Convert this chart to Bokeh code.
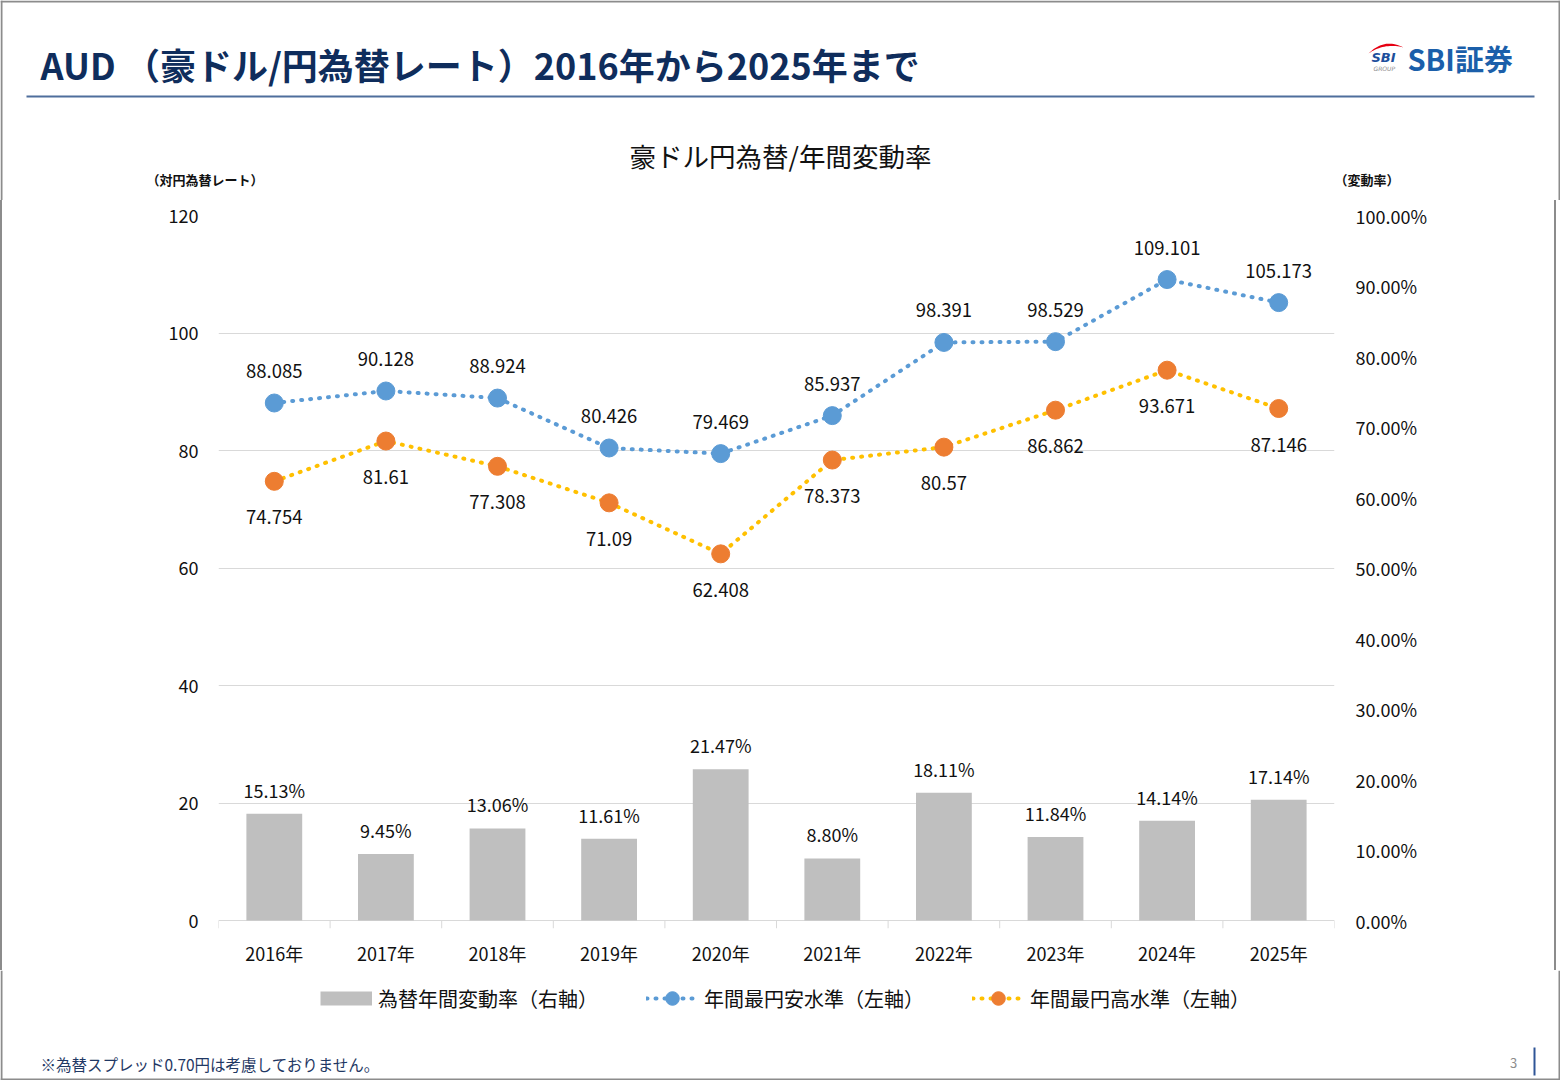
import numpy as np
from bokeh.plotting import figure
from bokeh.layouts import column
from bokeh.models import (Range1d, FactorRange, LinearAxis, CategoricalAxis, FixedTicker,
                          PrintfTickFormatter, ColumnDataSource, Legend, LegendItem)
from bokeh.core.properties import value
from bokeh.embed import file_html
from bokeh.resources import INLINE

# ---------------- data ----------------
years = ["2016年", "2017年", "2018年", "2019年", "2020年",
         "2021年", "2022年", "2023年", "2024年", "2025年"]
yen_weak = [88.085, 90.128, 88.924, 80.426, 79.469, 85.937, 98.391, 98.529, 109.101, 105.173]
yen_strong = [74.754, 81.61, 77.308, 71.09, 62.408, 78.373, 80.57, 86.862, 93.671, 87.146]
change_pct = [15.13, 9.45, 13.06, 11.61, 21.47, 8.80, 18.11, 11.84, 14.14, 17.14]
left_ticks = [0, 20, 40, 60, 80, 100, 120]
right_ticks = [0, 10, 20, 30, 40, 50, 60, 70, 80, 90, 100]

series_names = ["為替年間変動率（右軸）", "年間最円安水準（左軸）", "年間最円高水準（左軸）"]
page_title = "AUD （豪ドル/円為替レート）2016年から2025年まで"
chart_title = "豪ドル円為替/年間変動率"
left_unit = "（対円為替レート）"
right_unit = "（変動率）"
footnote = "※為替スプレッド0.70円は考慮しておりません。"
page_no = "3"

# ---------------- style ----------------
FONT = "Noto Sans CJK JP"
TXT = "#111111"
NAVY = "#0F2D5C"
BLUE = "#5B9BD5"
YELLOW = "#FFC000"
ORANGE = "#ED7D31"
BAR = "#BFBFBF"
GRID = "#D9D9D9"
FRAME_GRAY = "#8C8C8C"

W = 1560
RULE = 2                   # page frame rule width
HEAD_H, CHART_H, FOOT_H = 200, 770, 110
FL, FR = 218, 226          # chart frame margins (left / right), page pixels
FT = 15                    # chart frame top margin
PLOT_H = 705               # height of the 0..120 value band
TICK_OUT = 8               # category boundary tick length below the base line
FB = CHART_H - FT - PLOT_H - TICK_OUT

px_per_left = PLOT_H / left_ticks[-1]
px_per_right = PLOT_H / right_ticks[-1]


def canvas_fig(h):
    f = figure(width=W, height=h, x_range=Range1d(0, W), y_range=Range1d(h, 0),
               output_backend="svg", toolbar_location=None,
               x_axis_location=None, y_axis_location=None,
               min_border=0, outline_line_color=None, frame_align=False,
               background_fill_color="white", border_fill_color="white")
    f.xgrid.visible = False
    f.ygrid.visible = False
    return f


def put_text(f, x, y, text, size, color=TXT, align="left", style="normal", font=FONT):
    f.text(x=[x], y=[y], text=[text], text_font=value(font), text_font_size=size,
           text_color=color, text_align=align, text_baseline="middle",
           text_font_style=style)


def side_rules(f, h):
    f.quad(left=[0], right=[RULE], top=[0], bottom=[h], fill_color=FRAME_GRAY, line_color=None)
    f.quad(left=[W - RULE], right=[W], top=[0], bottom=[h], fill_color=FRAME_GRAY,
           line_color=None)


# ================= header =================
head = canvas_fig(HEAD_H)
side_rules(head, HEAD_H)
head.quad(left=[0], right=[W], top=[0], bottom=[RULE], fill_color=FRAME_GRAY, line_color=None)
head.quad(left=[26], right=[1534], top=[95], bottom=[97], fill_color="#4F6E9C", line_color=None)
put_text(head, 40, 63, page_title, "36px", color=NAVY, style="bold")
put_text(head, 780, 155, chart_title, "26.5px", align="center")
put_text(head, 146, 179, left_unit, "13px", style="bold")
put_text(head, 1334, 179, right_unit, "13px", style="bold")

# logo
t = np.linspace(0, 1, 20)


def bez(p0, c, p1):
    return ((1 - t) ** 2 * p0[0] + 2 * (1 - t) * t * c[0] + t ** 2 * p1[0],
            (1 - t) ** 2 * p0[1] + 2 * (1 - t) * t * c[1] + t ** 2 * p1[1])


ux, uy = bez((1368, 53), (1384, 37), (1403, 47))
lx, ly = bez((1403, 47), (1384, 42), (1368, 53))
head.patch(x=np.concatenate([ux, lx]), y=np.concatenate([uy, ly]), fill_color="#E60012",
           line_color=None)
put_text(head, 1371, 57, "SBI", "13px", color="#1D4F9C", style="bold italic", font="DejaVu Sans")
put_text(head, 1373, 68, "GROUP", "6px", color="#8C8C8C", style="italic", font="DejaVu Sans")
put_text(head, 1407, 57, "SBI証券", "29px", color="#1B5FAA", style="bold")

# ================= chart =================
src = ColumnDataSource(dict(
    year=years,
    weak=yen_weak,
    strong=yen_strong,
    pct=change_pct,
    weak_lbl=[repr(v) for v in yen_weak],
    strong_lbl=[repr(v) for v in yen_strong],
    pct_lbl=[f"{v:.2f}%" for v in change_pct],
))

# value ranges are extended slightly below 0 so the category boundary ticks fit in the frame
p = figure(width=W - 2 * RULE, height=CHART_H, x_range=FactorRange(*years),
           y_range=Range1d(-TICK_OUT / px_per_left, left_ticks[-1]),
           output_backend="svg", toolbar_location=None,
           x_axis_location=None, y_axis_location=None, frame_align=False,
           min_border_left=FL - RULE, min_border_top=FT, min_border_right=FR - RULE,
           min_border_bottom=FB,
           outline_line_color=None, background_fill_color="white",
           border_fill_color="white")
p.styles = {"border-left": f"{RULE}px solid {FRAME_GRAY}",
            "border-right": f"{RULE}px solid {FRAME_GRAY}"}

p.extra_y_ranges = {"pct": Range1d(-TICK_OUT / px_per_right, right_ticks[-1])}

p.xgrid.visible = False
p.ygrid.ticker = FixedTicker(ticks=left_ticks)
p.ygrid.grid_line_color = GRID
p.ygrid.grid_line_width = 1

ax_l = LinearAxis(ticker=FixedTicker(ticks=left_ticks), axis_line_color=None,
                  major_tick_line_color=None, minor_tick_line_color=None,
                  major_tick_out=0, major_tick_in=0, major_label_standoff=20,
                  major_label_text_font=FONT, major_label_text_font_size="18px",
                  major_label_text_color=TXT)
p.add_layout(ax_l, "left")

ax_r = LinearAxis(y_range_name="pct", ticker=FixedTicker(ticks=right_ticks),
                  formatter=PrintfTickFormatter(format="%.2f%%"),
                  axis_line_color=None, major_tick_line_color=None,
                  minor_tick_line_color=None, major_tick_out=0, major_tick_in=0,
                  major_label_standoff=21, major_label_text_font=FONT,
                  major_label_text_font_size="18px", major_label_text_color=TXT)
p.add_layout(ax_r, "right")

ax_c = CategoricalAxis(axis_line_color=None, major_tick_line_color=None,
                       major_tick_out=0, major_tick_in=0, major_label_standoff=11,
                       major_label_text_font=FONT, major_label_text_font_size="18px",
                       major_label_text_color=TXT)
p.add_layout(ax_c, "below")

# category boundary ticks (synthetic categorical coordinates 0..n)
bounds = list(range(len(years) + 1))
p.segment(x0=bounds, x1=bounds, y0=[0] * len(bounds),
          y1=[-TICK_OUT / px_per_left] * len(bounds), line_color=GRID, line_width=1)

p.vbar(x="year", top="pct", width=0.5, source=src, y_range_name="pct",
       fill_color=BAR, line_color=None)
p.text(x="year", y="pct", text="pct_lbl", source=src, y_range_name="pct", y_offset=-24,
       text_align="center", text_baseline="middle", text_font=value(FONT),
       text_font_size="18px", text_color=TXT)

p.line(x="year", y="weak", source=src, line_color=BLUE, line_width=4,
       line_dash="1 8", line_cap="round")
p.scatter(x="year", y="weak", source=src, size=18, fill_color=BLUE, line_color=BLUE)
p.line(x="year", y="strong", source=src, line_color=YELLOW, line_width=4,
       line_dash="1 8", line_cap="round")
p.scatter(x="year", y="strong", source=src, size=18, fill_color=ORANGE, line_color=ORANGE)
p.text(x="year", y="weak", text="weak_lbl", source=src, y_offset=-32,
       text_align="center", text_baseline="middle", text_font=value(FONT),
       text_font_size="18.5px", text_color=TXT)
p.text(x="year", y="strong", text="strong_lbl", source=src, y_offset=36,
       text_align="center", text_baseline="middle", text_font=value(FONT),
       text_font_size="18.5px", text_color=TXT)

# ================= footer (legend + note) =================
foot = canvas_fig(FOOT_H)
side_rules(foot, FOOT_H)
foot.quad(left=[0], right=[W], top=[FOOT_H - RULE], bottom=[FOOT_H], fill_color=FRAME_GRAY,
          line_color=None)
foot.quad(left=[1533], right=[1535], top=[77], bottom=[105], fill_color="#2F5597",
          line_color=None)
put_text(foot, 40, 93, footnote, "15.5px", color="#1F3864")
put_text(foot, 1513, 92, page_no, "13px", color="#8C8C8C", align="center")

# legend swatches: proxy renderers with one point kept outside the visible canvas
off = dict(x=[-100], y=[-100])
k_bar = foot.line(**off, line_color=BAR, line_width=14)
k_wl = foot.line(**off, line_color=BLUE, line_width=4, line_dash="1 8", line_cap="round")
k_ws = foot.scatter(**off, fill_color=BLUE, line_color=BLUE)
k_sl = foot.line(**off, line_color=YELLOW, line_width=4, line_dash="1 8", line_cap="round")
k_ss = foot.scatter(**off, fill_color=ORANGE, line_color=ORANGE)
legend = Legend(items=[
    LegendItem(label=series_names[0], renderers=[k_bar]),
    LegendItem(label=series_names[1], renderers=[k_wl, k_ws]),
    LegendItem(label=series_names[2], renderers=[k_sl, k_ss]),
], orientation="horizontal", location=(320, FOOT_H - 45), glyph_width=52,
    glyph_height=34, label_standoff=6, spacing=48, padding=0, margin=0,
    border_line_color=None, background_fill_alpha=0, label_text_font=FONT,
    label_text_font_size="20px", label_text_color=TXT, label_height=34)
foot.add_layout(legend, "center")

page = column(head, p, foot, spacing=0)
open("out.html", "w").write(file_html(page, INLINE))
